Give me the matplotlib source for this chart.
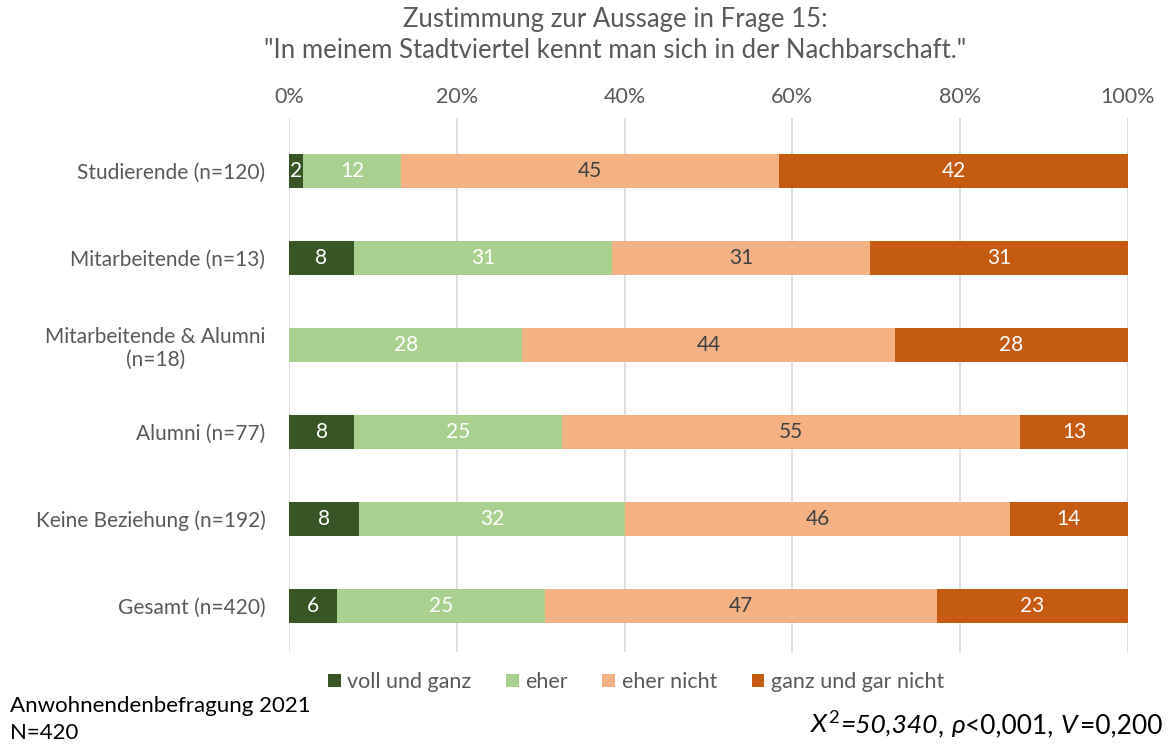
import matplotlib.pyplot as plt
import numpy as np

plt.rcParams['font.family'] = ['Lato', 'DejaVu Sans']
plt.rcParams['mathtext.fontset'] = 'custom'
plt.rcParams['mathtext.rm'] = 'Lato'
plt.rcParams['mathtext.it'] = 'Lato:italic'

# Daten (Anteile in %)
groups = ["Studierende (n=120)", "Mitarbeitende (n=13)", "Mitarbeitende & Alumni\n(n=18)",
          "Alumni (n=77)", "Keine Beziehung (n=192)", "Gesamt (n=420)"]
categories = ["voll und ganz", "eher", "eher nicht", "ganz und gar nicht"]
voll = [1.7, 7.7, 0.0, 7.8, 8.3, 5.7]
eher = [11.7, 30.8, 27.8, 24.7, 31.8, 24.8]
eher_nicht = [45.0, 30.8, 44.4, 54.6, 45.8, 46.7]
gar_nicht = [41.7, 30.8, 27.8, 13.0, 14.1, 22.8]

colors = ["#375623", "#A9D18E", "#F4B183", "#C55A11"]
text_colors = ["white", "white", "#404040", "white"]
grau = "#595959"

fig = plt.figure(figsize=(11.74, 7.46), dpi=100)
ax = fig.add_axes([289/1174, 1-652/746, (1128-289)/1174, (652-118)/746])

y = np.arange(len(groups))
left = np.zeros(len(groups))
for vals, col, tcol, cat in zip([voll, eher, eher_nicht, gar_nicht], colors, text_colors, categories):
    vals = np.array(vals)
    ax.barh(y, vals, left=left, height=0.39, color=col, label=cat, zorder=2)
    for yi, l, v in zip(y, left, vals):
        if v > 0:
            ax.text(l + v/2, yi, f"{round(v):d}", ha="center", va="center",
                    color=tcol, fontsize=15, zorder=3)
    left += vals

ax.set_xlim(0, 100)
ax.set_ylim(5.53, -0.61)
ax.set_xticks(np.arange(0, 101, 20))
ax.set_xticklabels([f"{v}%" for v in range(0, 101, 20)])
ax.xaxis.tick_top()
ax.tick_params(axis="x", length=0, labelsize=15.5, labelcolor=grau, pad=8)
ax.set_yticks(y)
ax.set_yticklabels(groups, fontsize=15, color=grau)
ax.tick_params(axis="y", length=0, pad=17)
for lbl in ax.get_yticklabels():
    lbl.set_horizontalalignment("right")
    lbl.set_multialignment("center")
ax.grid(axis="x", color="#D9D9D9", linewidth=1.2, zorder=0)
for s in ax.spines.values():
    s.set_visible(False)

fig.text(615/1174, 1-19/746, "Zustimmung zur Aussage in Frage 15:", ha="center", va="center",
         fontsize=18.5, color=grau)
fig.text(615/1174, 1-50/746, "\"In meinem Stadtviertel kennt man sich in der Nachbarschaft.\"",
         ha="center", va="center", fontsize=18.5, color=grau)

fig.legend(loc="center", bbox_to_anchor=(636/1174, 1-682/746), ncol=4, frameon=False,
           fontsize=15.5, handlelength=0.6, handleheight=0.6, handletextpad=0.3,
           columnspacing=1.6, labelcolor=grau)

fig.text(10/1174, 1-706/746, "Anwohnendenbefragung 2021", ha="left", va="center", fontsize=16, color="black")
fig.text(10/1174, 1-733/746, "N=420", ha="left", va="center", fontsize=16, color="black")

# Statistik-Zeile stückweise, damit "=" ohne Mathe-Abstände bleibt
teile = [(r"$X^{2}$", "normal"), ("=50,340", "italic"), (", ", "normal"), (r"$\rho$", "normal"),
         ("<0,001, ", "normal"), (r"$V$", "normal"), ("=0,200", "normal")]
renderer = fig.canvas.get_renderer()
x = 810 / 1174
for txt, stil in teile:
    t = fig.text(x, 1-733/746, txt, ha="left", va="baseline", fontsize=19,
                 style=stil, color="black")
    bb = t.get_window_extent(renderer)
    x = fig.transFigure.inverted().transform((bb.x1, bb.y0))[0]

fig.savefig("out.png", dpi=100, facecolor="white")
